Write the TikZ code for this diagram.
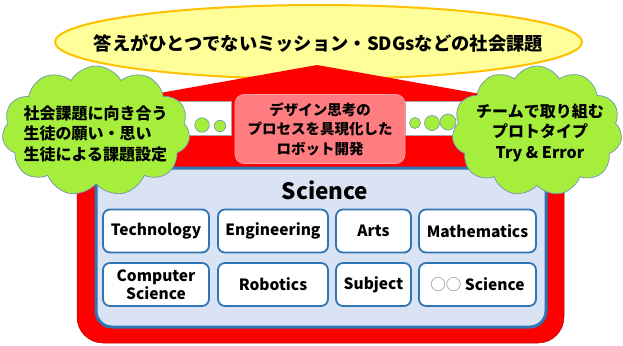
\documentclass[tikz,border=0pt]{standalone}
\usepackage{fontspec}
\setmainfont{Noto Sans CJK JP}
\usetikzlibrary{shapes.symbols,shapes.geometric}
\definecolor{elfill}{HTML}{FFFF99}
\definecolor{elline}{HTML}{FFC000}
\definecolor{cloudg}{HTML}{A6EE3C}
\definecolor{cloudline}{HTML}{6F93B5}
\definecolor{redr}{HTML}{FF0000}
\definecolor{pinkb}{HTML}{FF7C80}
\definecolor{panelb}{HTML}{DAE3F3}
\definecolor{blueline}{HTML}{2E75B6}
\tikzset{
  cloudbox/.style={cloud, cloud puffs=11, cloud puff arc=120, draw=cloudline, line width=0.7pt, fill=cloudg, inner sep=0pt},
  bubble/.style={circle, draw=cloudline, line width=0.6pt, fill=cloudg, inner sep=0pt},
  sbox/.style={draw=blueline, line width=1.8pt, fill=white, rounded corners=7pt, minimum height=43pt, inner sep=0pt, align=center, font=\bfseries\fontsize{15.5}{18}\selectfont},
  cloudtext/.style={font=\bfseries\fontsize{16}{20.5}\selectfont},
  window/.style={fill=white, draw=gray!70, line width=0.5pt}
}
\begin{document}
\begin{tikzpicture}[x=1pt,y=-1pt]
\useasboundingbox (0,0) rectangle (623,345);
\fill[white] (0,0) rectangle (623,345);
% goal ellipse
\node[ellipse, draw=elline, line width=2pt, fill=elfill, minimum width=527pt, minimum height=74pt, inner sep=0pt] (goal) at (318.5,42) {};
\node[font=\bfseries\fontsize{18.3}{20}\selectfont] (goaltext) at (318.5,43) {答えがひとつでないミッション・SDGsなどの社会課題};
% red house
\draw[fill=redr, draw=red!75!black, line width=0.5pt, rounded corners=26pt] (77,100) rectangle (564,343);
\fill[redr] (115,101) -- (317,65) -- (520,101) -- cycle;
\draw[window] (150,101.5) rectangle (231,135);
\draw[window] (405,101.5) rectangle (490,135);
% panel
\node[draw=blueline, line width=3pt, fill=panelb, rounded corners=16pt, minimum width=450pt, minimum height=159pt, inner sep=0pt] (panel) at (321,247.5) {};
% pink box
\node[fill=pinkb, draw=pinkb!70!white, line width=0.6pt, rounded corners=9pt, minimum width=170pt, minimum height=69pt, inner sep=0pt, align=center, font=\bfseries\fontsize{14.5}{19.5}\selectfont] (robot) at (320,129) {デザイン思考の\\プロセスを具現化した\\ロボット開発};
% bubbles
\node[bubble, minimum size=14.5pt] (bl1) at (202,125) {};
\node[bubble, minimum size=11.5pt] (bl2) at (220,126) {};
\node[bubble, minimum size=11pt] (br1) at (415,123) {};
\node[bubble, minimum size=15pt] (br2) at (432,123) {};
\node[bubble, minimum size=16pt] (br3) at (448,122) {};
% clouds
\node[cloudbox, minimum width=188pt, minimum height=130pt] (lcloud) at (96,131) {};
\node[cloudbox, minimum width=170pt, minimum height=130pt] (rcloud) at (537,131) {};
\node[cloudtext, align=left, anchor=west] (ltext) at (20,133.5) {社会課題に向き合う\\生徒の願い・思い\\生徒による課題設定};
\node[cloudtext, align=center] (rtext) at (540,132.5) {チームで取り組む\\プロトタイプ\\Try \& Error};
% science
\node[font=\bfseries\fontsize{22.5}{25}\selectfont] (sci) at (325,190) {Science};
\node[sbox, minimum width=106pt] (tech) at (156,231) {Technology};
\node[sbox, minimum width=110pt] (eng) at (273,231) {Engineering};
\node[sbox, minimum width=75pt] (arts) at (373.5,231) {Arts};
\node[sbox, minimum width=117pt] (math) at (477.5,231) {Mathematics};
\node[sbox, minimum width=106pt, font=\bfseries\fontsize{15.5}{18.5}\selectfont] (cs) at (156,284.5) {Computer\\Science};
\node[sbox, minimum width=110pt] (robo) at (273,284.5) {Robotics};
\node[sbox, minimum width=75pt] (subj) at (373.5,284.5) {Subject};
\node[sbox, minimum width=117pt] (oo) at (477.5,284.5) {{\color{gray}\mdseries ○○} Science};
\end{tikzpicture}
\end{document}
